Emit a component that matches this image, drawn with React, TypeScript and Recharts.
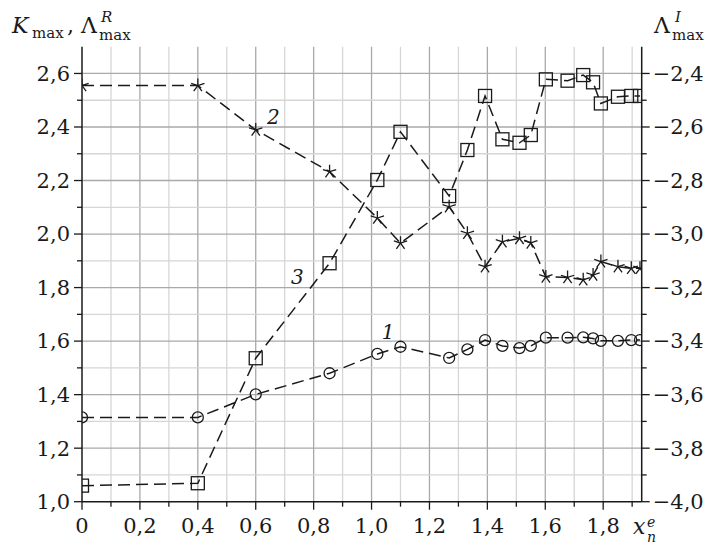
import React from "react";
import {
  LineChart,
  Line,
  XAxis,
  YAxis,
  ReferenceLine,
  ReferenceDot,
} from "recharts";

// shared abscissae x_n^e
const xs = [0, 0.4, 0.6, 0.855, 1.02, 1.1, 1.268, 1.331, 1.392, 1.452, 1.511, 1.55, 1.602, 1.677, 1.731, 1.765, 1.792, 1.851, 1.897, 1.927];
// curve 1 (circles) K_max
const kMax = [1.315, 1.315, 1.401, 1.48, 1.552, 1.579, 1.537, 1.569, 1.604, 1.582, 1.574, 1.582, 1.613, 1.613, 1.614, 1.61, 1.601, 1.601, 1.604, 1.604];
// curve 2 (stars) Lambda^R_max
const lambdaR = [2.555, 2.555, 2.389, 2.233, 2.06, 1.966, 2.102, 2.003, 1.878, 1.971, 1.984, 1.967, 1.84, 1.838, 1.829, 1.847, 1.897, 1.878, 1.872, 1.872];
// curve 3 (squares) Lambda^I_max, right axis
const lambdaI = [-3.94, -3.931, -3.464, -3.109, -2.798, -2.618, -2.858, -2.686, -2.484, -2.646, -2.659, -2.63, -2.422, -2.427, -2.406, -2.433, -2.512, -2.487, -2.484, -2.484];

const xTicks = [0, 0.1, 0.2, 0.3, 0.4, 0.5, 0.6, 0.7, 0.8, 0.9, 1.0, 1.1, 1.2, 1.3, 1.4, 1.5, 1.6, 1.7, 1.8, 1.9];
const yTicks = [1.0, 1.1, 1.2, 1.3, 1.4, 1.5, 1.6, 1.7, 1.8, 1.9, 2.0, 2.1, 2.2, 2.3, 2.4, 2.5, 2.6];
const rTicks = [-4.0, -3.9, -3.8, -3.7, -3.6, -3.5, -3.4, -3.3, -3.2, -3.1, -3.0, -2.9, -2.8, -2.7, -2.6, -2.5, -2.4];
const xGrid = xTicks.slice(1);
const yGrid = yTicks.slice(1);

const curveLabels = [
  { name: "1", x: 1.057, y: 1.634 },
  { name: "2", x: 0.661, y: 2.437 },
  { name: "3", x: 0.744, y: 1.839 },
];

const data = xs.map((x, i) => ({ x, k: kMax[i], lr: lambdaR[i], li: lambdaI[i] }));

const FONT = "'DejaVu Serif', 'Liberation Serif', serif";
const INK = "#1a1a1a";
const fontStyle = { fontFamily: FONT };

const isMajor = (v: number) => Math.round(Math.abs(v) * 10) % 2 === 0;
const fmt = (v: number) => {
  if (v === 0) return "0";
  const s = Math.abs(v).toFixed(1).replace(".", ",");
  return v < 0 ? "\u2212" + s : s;
};

const XTick = (props: any) => {
  const { x, y, payload } = props;
  const v = payload.value;
  const major = isMajor(v);
  return (
    <g>
      <line x1={x} x2={x} y1={y} y2={y + (major ? 8 : 5)} stroke={INK} strokeWidth={1.3} />
      {major && (
        <text x={x} y={y + 31} textAnchor="middle" fontSize={21} fontFamily={FONT} style={fontStyle} fill={INK}>
          {fmt(v)}
        </text>
      )}
    </g>
  );
};

const LeftTick = (props: any) => {
  const { x, y, payload } = props;
  const v = payload.value;
  const major = isMajor(v);
  return (
    <g>
      <line x1={x} x2={x - (major ? 8 : 5)} y1={y} y2={y} stroke={INK} strokeWidth={1.3} />
      {major && (
        <text x={x - 12} y={y} dy="0.35em" textAnchor="end" fontSize={21} fontFamily={FONT} style={fontStyle} fill={INK}>
          {fmt(v)}
        </text>
      )}
    </g>
  );
};

const RightTick = (props: any) => {
  const { x, y, payload } = props;
  const v = payload.value;
  const major = isMajor(v);
  return (
    <g>
      <line x1={x} x2={x + (major ? 8 : 5)} y1={y} y2={y} stroke={INK} strokeWidth={1.3} />
      {major && (
        <text x={x + 11} y={y} dy="0.35em" textAnchor="start" fontSize={21} fontFamily={FONT} style={fontStyle} fill={INK}>
          {fmt(v)}
        </text>
      )}
    </g>
  );
};

const CircleDot = (p: any) => (
  <circle key={"c" + p.index} cx={p.cx} cy={p.cy} r={5.5} fill="none" stroke={INK} strokeWidth={1.3} />
);

const SquareDot = (p: any) => (
  <rect key={"s" + p.index} x={p.cx - 6.5} y={p.cy - 6.5} width={13} height={13} fill="none" stroke={INK} strokeWidth={1.3} />
);

const StarDot = (p: any) => {
  const r = 7;
  const arms = [0, 1, 2, 3, 4].map((i) => {
    const a = (-90 + i * 72) * (Math.PI / 180);
    return `M${p.cx},${p.cy}L${p.cx + r * Math.cos(a)},${p.cy + r * Math.sin(a)}`;
  });
  return <path key={"t" + p.index} d={arms.join("")} stroke={INK} strokeWidth={1.3} fill="none" />;
};

const lineProps = {
  type: "linear" as const,
  stroke: INK,
  strokeWidth: 1.5,
  strokeDasharray: "12 6",
  isAnimationActive: false,
  activeDot: false as const,
};

export default function App() {
  return (
    <div style={{ position: "absolute", left: 0, top: 0, width: 714, height: 545, background: "#fff", fontFamily: FONT }}>
      <LineChart
        width={714}
        height={545}
        data={data}
        margin={{ top: 46.7, right: 12.3, left: 12, bottom: 13.3 }}
      >
        <XAxis
          dataKey="x"
          type="number"
          domain={[0, 1.933]}
          ticks={xTicks}
          interval={0}
          tick={<XTick />}
          tickLine={false}
          tickSize={0}
          tickMargin={0}
          height={30}
          axisLine={{ stroke: INK, strokeWidth: 1.5 }}
          allowDataOverflow
        />
        <YAxis
          yAxisId="left"
          type="number"
          domain={[1.0, 2.7]}
          ticks={yTicks}
          interval={0}
          tick={<LeftTick />}
          tickLine={false}
          tickSize={0}
          tickMargin={0}
          width={70}
          axisLine={{ stroke: INK, strokeWidth: 1.5 }}
          allowDataOverflow
        />
        <YAxis
          yAxisId="right"
          orientation="right"
          type="number"
          domain={[-4.0, -2.3]}
          ticks={rTicks}
          interval={0}
          tick={<RightTick />}
          tickLine={false}
          tickSize={0}
          tickMargin={0}
          width={60}
          axisLine={{ stroke: INK, strokeWidth: 1.5 }}
          allowDataOverflow
        />
        {xGrid.map((v) => (
          <ReferenceLine
            key={"gx" + v}
            yAxisId="left"
            x={v}
            stroke={isMajor(v) ? "#a9a9a9" : "#d6d6d6"}
            strokeWidth={1.3}
          />
        ))}
        {yGrid.map((v) => (
          <ReferenceLine
            key={"gy" + v}
            yAxisId="left"
            y={v}
            stroke={isMajor(v) ? "#a9a9a9" : "#d6d6d6"}
            strokeWidth={1.3}
          />
        ))}
        <Line yAxisId="left" dataKey="k" dot={CircleDot} {...lineProps} />
        <Line yAxisId="left" dataKey="lr" dot={StarDot} {...lineProps} />
        <Line yAxisId="right" dataKey="li" dot={SquareDot} {...lineProps} />
        {curveLabels.map((c) => (
          <ReferenceDot
            key={"l" + c.name}
            yAxisId="left"
            x={c.x}
            y={c.y}
            r={0}
            shape={(p: any) => (
              <text x={p.cx} y={p.cy} dy="0.35em" textAnchor="middle" fontSize={20} fontStyle="italic" fontFamily={FONT} style={fontStyle} fill={INK}>
                {c.name}
              </text>
            )}
          />
        ))}
      </LineChart>
      <svg width={714} height={545} style={{ position: "absolute", left: 0, top: 0, pointerEvents: "none" }}>
        <text y={33} fontFamily={FONT} style={fontStyle} fill={INK} fontSize={22}>
          <tspan x={12} fontStyle="italic">K</tspan>
          <tspan x={32} dy={5} fontSize={15}>max</tspan>
          <tspan x={67} dy={-5}>, Λ</tspan>
          <tspan x={101} dy={-11} fontSize={15} fontStyle="italic">R</tspan>
          <tspan x={99} dy={18} fontSize={15}>max</tspan>
        </text>
        <text y={33} fontFamily={FONT} style={fontStyle} fill={INK} fontSize={22}>
          <tspan x={654}>Λ</tspan>
          <tspan x={675} dy={-11} fontSize={15} fontStyle="italic">I</tspan>
          <tspan x={672} dy={18} fontSize={15}>max</tspan>
        </text>
        <text y={534} fontFamily={FONT} style={fontStyle} fill={INK} fontSize={22} fontStyle="italic">
          <tspan x={633}>x</tspan>
          <tspan x={647} dy={-7} fontSize={14}>e</tspan>
          <tspan x={647} dy={15} fontSize={14}>n</tspan>
        </text>
      </svg>
    </div>
  );
}
